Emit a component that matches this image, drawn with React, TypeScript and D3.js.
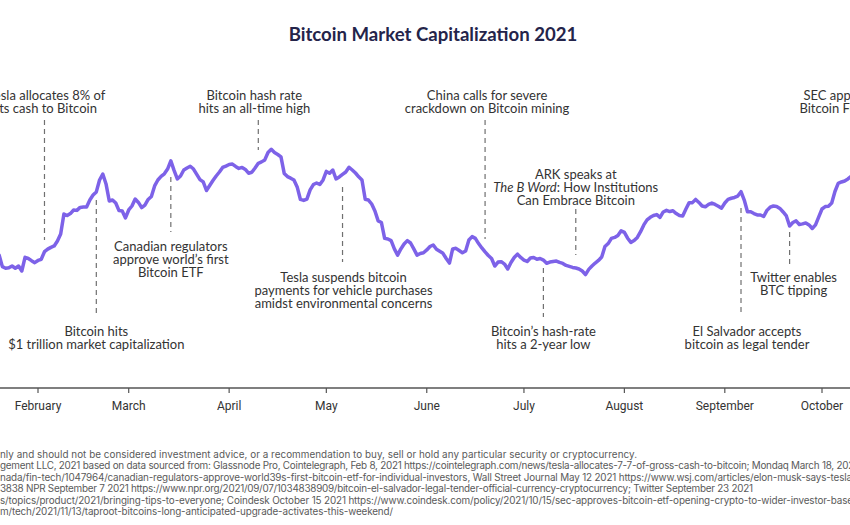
import React from "react";
import * as d3 from "d3";

// ---------- DATA ----------
const chartTitle = "Bitcoin Market Capitalization 2021";

// Daily Bitcoin market capitalization (USD billions), starting on firstDay
const firstDay = "2021-01-19";
const marketCapB = [
  650, 656, 598, 590, 592, 601, 590, 601, 576, 645, 639, 628, 618, 629, 635, 673, 686, 695, 702, 727,
  762, 863, 855, 865, 883, 881, 896, 898, 898, 933, 958, 974, 1034, 1064, 1014, 928, 933, 918, 880, 878,
  843, 883, 903, 938, 921, 895, 908, 936, 951, 1004, 1034, 1052, 1065, 1089, 1130, 1082, 1039, 1054, 1084, 1094,
  1103, 1089, 1062, 1036, 1024, 981, 1006, 1031, 1054, 1074, 1097, 1104, 1112, 1114, 1102, 1092, 1097, 1087, 1068, 1073,
  1094, 1118, 1125, 1135, 1172, 1188, 1172, 1162, 1150, 1067, 1051, 1043, 1034, 999, 936, 931, 938, 984, 1011, 1019,
  1011, 1034, 1077, 1068, 1084, 1039, 1049, 1062, 1074, 1098, 1084, 1069, 1050, 1034, 937, 933, 913, 878, 828, 820,
  740, 737, 729, 687, 656, 687, 712, 729, 717, 687, 656, 664, 668, 682, 699, 707, 685, 675, 665, 639,
  616, 687, 690, 679, 668, 677, 732, 749, 740, 714, 692, 672, 654, 639, 601, 621, 623, 611, 586, 619,
  644, 661, 644, 631, 624, 641, 644, 635, 639, 631, 615, 621, 624, 626, 619, 614, 604, 599, 594, 591,
  586, 576, 558, 584, 601, 616, 629, 646, 699, 714, 740, 745, 755, 778, 770, 741, 720, 729, 745, 774,
  808, 833, 846, 855, 860, 846, 873, 881, 875, 879, 865, 855, 853, 888, 920, 920, 936, 921, 903, 899,
  911, 918, 911, 902, 892, 918, 936, 942, 946, 953, 975, 933, 874, 874, 865, 858, 858, 850, 881, 897,
  903, 901, 891, 873, 853, 802, 820, 828, 810, 813, 818, 808, 790, 808, 848, 888, 900, 902, 918, 976,
  1017, 1024, 1029, 1039, 1052, 1064, 1074,
];

const monthTickDates = [
  "2021-01-01", "2021-02-01", "2021-03-01", "2021-04-01", "2021-05-01", "2021-06-01",
  "2021-07-01", "2021-08-01", "2021-09-01", "2021-10-01", "2021-11-01",
];
const monthTickLabels = [
  "January", "February", "March", "April", "May", "June",
  "July", "August", "September", "October", "November",
];

const eventDates = [
  "2021-02-03", "2021-02-19", "2021-03-14", "2021-04-10", "2021-05-06", "2021-06-19",
  "2021-07-07", "2021-07-17", "2021-09-06", "2021-09-21", "2021-10-11",
];
const eventLabels = [
  ["Tesla allocates 8% of", "its cash to Bitcoin"],
  ["Bitcoin hits", "$1 trillion market capitalization"],
  ["Canadian regulators", "approve world\u2019s first", "Bitcoin ETF"],
  ["Bitcoin hash rate", "hits an all-time high"],
  ["Tesla suspends bitcoin", "payments for vehicle purchases", "amidst environmental concerns"],
  ["China calls for severe", "crackdown on Bitcoin mining"],
  ["Bitcoin\u2019s hash-rate", "hits a 2-year low"],
  ["ARK speaks at", "*The B Word*: How Institutions", "Can Embrace Bitcoin"],
  ["El Salvador accepts", "bitcoin as legal tender"],
  ["Twitter enables", "BTC tipping"],
  ["SEC approves first", "Bitcoin Futures ETF"],
];

const footerLines = [
  "nly and should not be considered investment advice, or a recommendation to buy, sell or hold any particular security or cryptocurrency.",
  "gement LLC, 2021 based on data sourced from: Glassnode Pro, Cointelegraph, Feb 8, 2021 https://cointelegraph.com/news/tesla-allocates-7-7-of-gross-cash-to-bitcoin; Mondaq March 18, 2021",
  "nada/fin-tech/1047964/canadian-regulators-approve-world39s-first-bitcoin-etf-for-individual-investors, Wall Street Journal May 12 2021 https://www.wsj.com/articles/elon-musk-says-tesla",
  "3838  NPR September 7 2021 https://www.npr.org/2021/09/07/1034838909/bitcoin-el-salvador-legal-tender-official-currency-cryptocurrency; Twitter September 23 2021",
  "s/topics/product/2021/bringing-tips-to-everyone; Coindesk October 15 2021 https://www.coindesk.com/policy/2021/10/15/sec-approves-bitcoin-etf-opening-crypto-to-wider-investor-base",
  "m/tech/2021/11/13/taproot-bitcoins-long-anticipated-upgrade-activates-this-weekend/",
];

// ---------- LAYOUT (positions only) ----------
const footerWidths = [637, 858, 852, 753, 853, 393];

const eventLayout = [
  { textY: 95, dx: 2, dashTop: 120, dashBottom: 240 },
  { textY: 331, dx: 0, dashTop: 200, dashBottom: 316 },
  { textY: 246, dx: 0, dashTop: 177, dashBottom: 232 },
  { textY: 95, dx: -4, dashTop: 120, dashBottom: 150 },
  { textY: 277, dx: 1, dashTop: 187, dashBottom: 262 },
  { textY: 95, dx: 2, dashTop: 120, dashBottom: 239 },
  { textY: 331, dx: 0, dashTop: 268, dashBottom: 317 },
  { textY: 174, dx: 0, dashTop: 209, dashBottom: 255 },
  { textY: 331, dx: 6, dashTop: 208, dashBottom: 316 },
  { textY: 277, dx: 4, dashTop: 232, dashBottom: 265 },
  { textY: 95, dx: 1, dashTop: 120, dashBottom: 170 },
];

const parse = d3.timeParse("%Y-%m-%d");

function renderRich(s: string) {
  const parts = s.split("*");
  return parts.map((p, i) =>
    i % 2 === 1 ? (
      <tspan key={i} fontStyle="italic">{p}</tspan>
    ) : (
      <tspan key={i}>{p}</tspan>
    )
  );
}

export default function App() {
  const W = 850;
  const H = 525;
  const x = d3
    .scaleTime()
    .domain([parse("2021-02-01")!, parse("2021-10-01")!])
    .range([38, 822]);
  const y = d3.scaleLinear().domain([500, 1300]).range([286.1, 127.1]);

  const start = parse(firstDay)!;
  const data = marketCapB.map((v, i) => ({ date: d3.timeDay.offset(start, i), v }));
  const linePath = d3
    .line<{ date: Date; v: number }>()
    .x((d) => x(d.date))
    .y((d) => y(d.v))(data);

  const axisY = 388;
  const lineH = 13.3;

  return (
    <svg
      width={W}
      height={H}
      viewBox={`0 0 ${W} ${H}`}
      style={{ position: "absolute", left: 0, top: 0, background: "#fff" }}
    >
      <rect x={0} y={0} width={W} height={H} fill="#fff" />
      <text
        x={433}
        y={41}
        textAnchor="middle"
        fontFamily="Lato, sans-serif"
        fontWeight={700}
        fontSize={18.6}
        fill="#24244a"
      >
        {chartTitle}
      </text>

      {/* annotations */}
      {eventDates.map((ds, i) => {
        const L = eventLayout[i];
        const ex = x(parse(ds)!);
        return (
          <g key={i}>
            <line
              x1={ex}
              x2={ex}
              y1={L.dashTop}
              y2={L.dashBottom}
              stroke="#707070"
              strokeWidth={1.2}
              strokeDasharray="5,4"
            />
            {eventLabels[i].map((ln, j) => (
              <text
                key={j}
                x={ex + L.dx}
                y={L.textY + 4.5 + j * lineH}
                textAnchor="middle"
                fontFamily="Lato, sans-serif"
                fontSize={13}
                fill="#333"
              >
                {renderRich(ln)}
              </text>
            ))}
          </g>
        );
      })}

      {/* line */}
      <path
        d={linePath || ""}
        fill="none"
        stroke="#7d62e8"
        strokeWidth={3.5}
        strokeLinejoin="round"
        strokeLinecap="round"
      />

      {/* axis */}
      <line x1={0} x2={W} y1={axisY} y2={axisY} stroke="#555" strokeWidth={1.3} />
      {monthTickDates.map((ds, i) => {
        const tx = x(parse(ds)!);
        return (
          <g key={i}>
            <line x1={tx} x2={tx} y1={axisY} y2={axisY + 5} stroke="#555" strokeWidth={1.2} />
            <text
              x={tx}
              y={axisY + 22}
              textAnchor="middle"
              fontFamily="Roboto, sans-serif"
              fontSize={12}
              fill="#333"
            >
              {monthTickLabels[i]}
            </text>
          </g>
        );
      })}

      {/* footer */}
      {footerLines.map((ln, i) => (
        <text
          key={i}
          x={0}
          y={457.5 + i * 11.5}
          fontFamily="Inter, sans-serif"
          fontSize={9.9}
          fill="#5a5a5a"
          textLength={footerWidths[i]}
          lengthAdjust="spacing"
        >
          {ln}
        </text>
      ))}
    </svg>
  );
}
